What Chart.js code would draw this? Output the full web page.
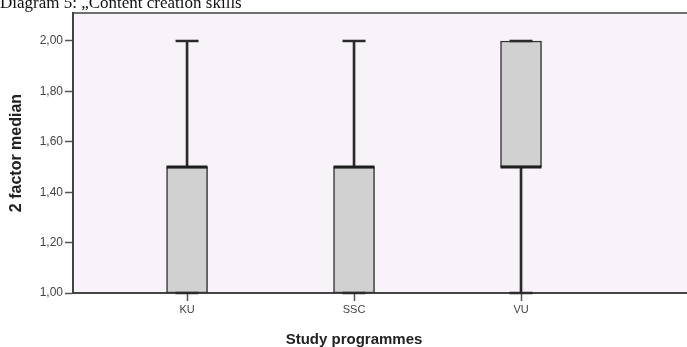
<!DOCTYPE html>
<html>
<head>
<meta charset="utf-8">
<script src="https://cdn.jsdelivr.net/npm/chart.js@4/dist/chart.umd.min.js"></script>
<style>
    html, body { margin: 0; padding: 0; background: #fff; overflow: hidden; }
    #wrap { position: relative; width: 687px; height: 347px; }
    #caption { position: absolute; left: 0; top: -6px; font: 17px 'Liberation Serif', 'Times New Roman', serif; line-height: 17px; color: #111; white-space: nowrap; }
    #xTitle { position: absolute; left: 354px; top: 331px; transform: translateX(-50%); font: bold 15px 'Liberation Sans', Arial, sans-serif; line-height: 15px; color: #222; white-space: nowrap; }
    canvas { position: absolute; left: 0; top: 0; }
</style>
</head>
<body>
<div id="wrap">
    <canvas id="boxChart" width="687" height="347"></canvas>
    <div id="caption">Diagram 5: „Content creation skills</div>
    <div id="xTitle">Study programmes</div>
</div>
<script>
// data
const programmes = ['KU', 'SSC', 'VU'];
const lowerWhisker = [1.00, 1.00, 1.00];
const q1 = [1.00, 1.00, 1.50];
const medians = [1.50, 1.50, 1.50];
const q3 = [1.50, 1.50, 2.00];
const upperWhisker = [2.00, 2.00, 2.00];
const yTicks = [1.00, 1.20, 1.40, 1.60, 1.80, 2.00];

const lineColor = '#2b2b2b';

// plot background + top frame line
const plotBackground = {
    id: 'plotBackground',
    beforeDraw(chart) {
        const a = chart.chartArea;
        const ctx = chart.ctx;
        ctx.save();
        ctx.fillStyle = '#f8f3f8';
        ctx.fillRect(a.left, a.top, a.right - a.left, a.bottom - a.top);
        ctx.strokeStyle = '#707070';
        ctx.lineWidth = 2;
        ctx.beginPath();
        ctx.moveTo(a.left, a.top);
        ctx.lineTo(a.right, a.top);
        ctx.stroke();
        ctx.restore();
    }
};

const ctx = document.getElementById('boxChart').getContext('2d');
new Chart(ctx, {
    type: 'bar',
    data: {
        datasets: [
            {
                // whiskers
                label: 'lower whisker',
                data: programmes.map((p, i) => ({ x: i, y: [lowerWhisker[i], q1[i]] })),
                backgroundColor: lineColor,
                borderWidth: 0,
                barThickness: 2,
                grouped: false,
                order: 3
            },
            {
                label: 'upper whisker',
                data: programmes.map((p, i) => ({ x: i, y: [q3[i], upperWhisker[i]] })),
                backgroundColor: lineColor,
                borderWidth: 0,
                barThickness: 2,
                grouped: false,
                order: 3
            },
            {
                // boxes
                label: 'box',
                data: programmes.map((p, i) => ({ x: i, y: [q1[i], q3[i]] })),
                backgroundColor: '#d1d1d1',
                borderColor: '#333',
                borderWidth: 1.5,
                borderSkipped: false,
                barThickness: 41,
                grouped: false,
                order: 2
            },
            {
                type: 'scatter',
                label: 'caps',
                data: programmes.map((p, i) => ({ x: i, y: lowerWhisker[i] }))
                    .concat(programmes.map((p, i) => ({ x: i, y: upperWhisker[i] }))),
                pointStyle: 'line',
                radius: 11.5,
                borderWidth: 2.5,
                borderColor: lineColor,
                clip: false,
                order: 1
            },
            {
                type: 'scatter',
                label: 'median',
                data: programmes.map((p, i) => ({ x: i, y: medians[i] })),
                pointStyle: 'line',
                radius: 20.5,
                borderWidth: 3,
                borderColor: '#1e1e1e',
                clip: false,
                order: 0
            }
        ]
    },
    options: {
        responsive: false,
        animation: false,
        layout: { autoPadding: false, padding: { top: 13, right: 0, left: 0, bottom: 0 } },
        plugins: { legend: { display: false }, tooltip: { enabled: false } },
        scales: {
            x: {
                type: 'linear',
                offset: false,
                min: -0.683,
                max: 2.994,
                afterBuildTicks: (scale) => { scale.ticks = programmes.map((p, i) => ({ value: i })); },
                afterFit: (scale) => { scale.height = 54; },
                ticks: {
                    callback: (v) => programmes[v],
                    color: '#444',
                    font: { family: "'Liberation Sans', Arial", size: 11 },
                    padding: 2,
                    maxRotation: 0
                },
                grid: { display: true, offset: false, drawOnChartArea: false, drawTicks: true, tickLength: 8, tickColor: '#555', tickWidth: 1.5 },
                border: { display: true, color: '#444', width: 2 }
            },
            y: {
                type: 'linear',
                min: 1.0,
                max: 2.111,
                afterBuildTicks: (scale) => { scale.ticks = yTicks.map(v => ({ value: v })); },
                afterFit: (scale) => { scale.width = 73; },
                ticks: {
                    callback: (v) => v.toFixed(2).replace('.', ','),
                    color: '#444',
                    font: { family: "'Liberation Sans', Arial", size: 12 },
                    padding: 2
                },
                grid: { display: true, drawOnChartArea: false, drawTicks: true, tickLength: 8, tickColor: '#555', tickWidth: 1.5 },
                border: { display: true, color: '#444', width: 2 },
                title: {
                    display: true,
                    text: '2 factor median',
                    color: '#222',
                    font: { family: "'Liberation Sans', Arial", size: 16, weight: 'bold' },
                    padding: { top: 7, bottom: 0 }
                }
            }
        }
    },
    plugins: [plotBackground]
});
</script>
</body>
</html>
